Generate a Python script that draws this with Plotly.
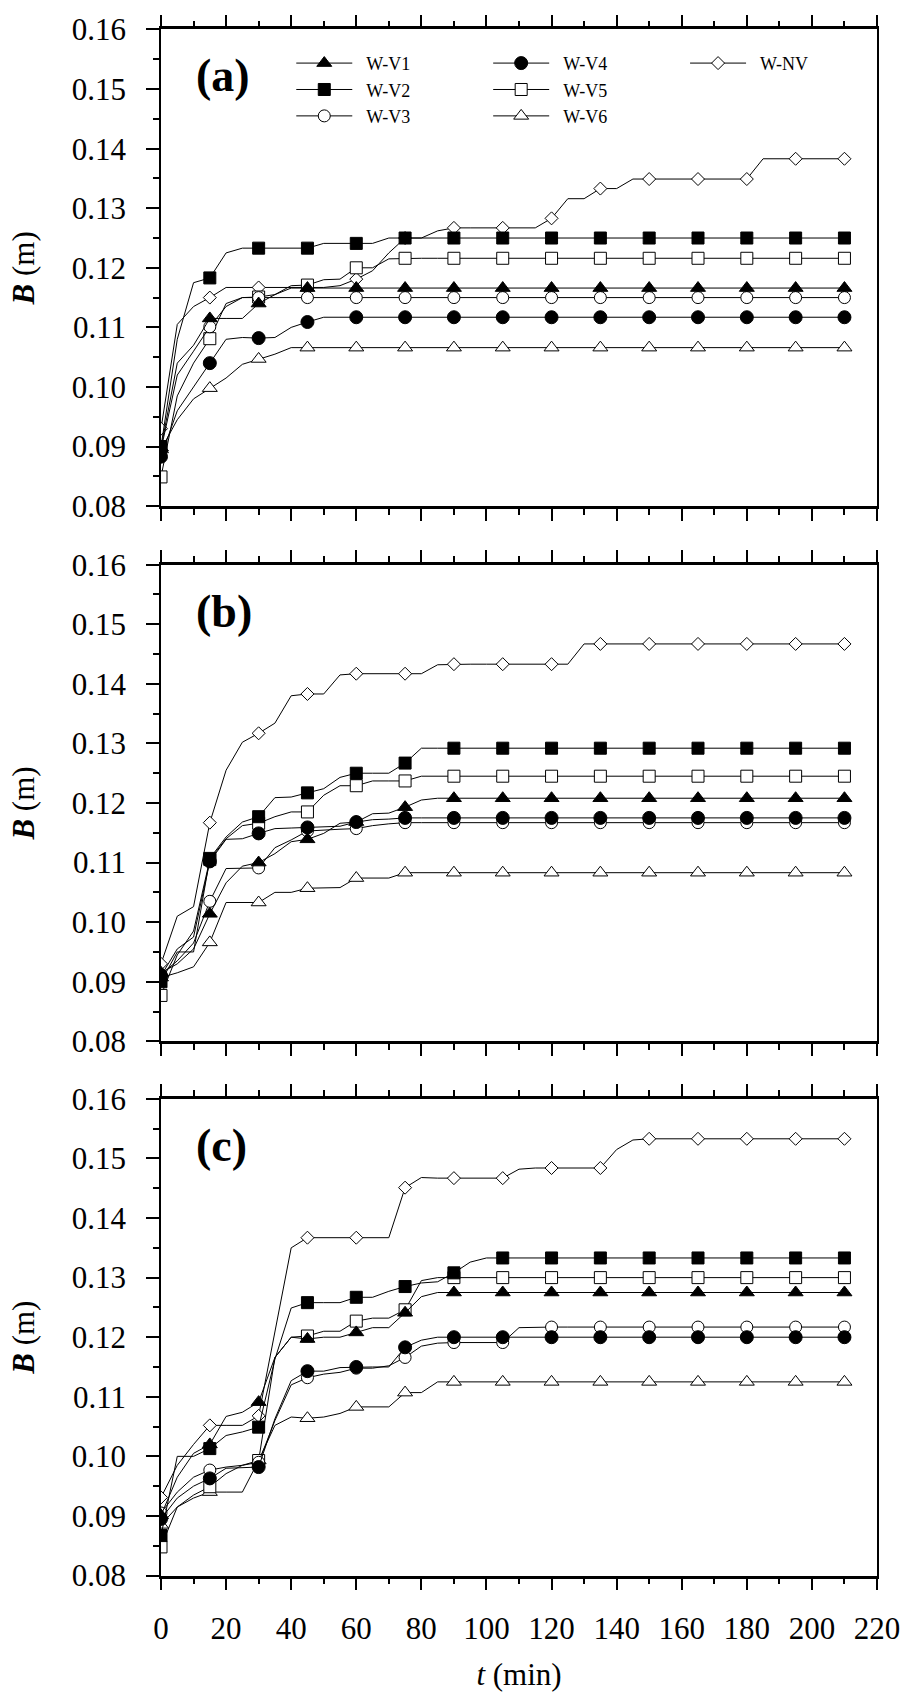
import plotly.graph_objects as go

# time axis (min) - measurements every 5 min, symbols every 15 min
t = [0, 5, 10, 15, 20, 25, 30, 35, 40, 45, 50, 55, 60, 65, 70, 75, 80, 85, 90, 95, 100,
     105, 110, 115, 120, 125, 130, 135, 140, 145, 150, 155, 160, 165, 170, 175, 180,
     185, 190, 195, 200, 205, 210]

series_names = ["W-V1", "W-V2", "W-V3", "W-V4", "W-V5", "W-V6", "W-NV"]
x_ticks = [0, 20, 40, 60, 80, 100, 120, 140, 160, 180, 200, 220]
y_ticks = [0.08, 0.09, 0.10, 0.11, 0.12, 0.13, 0.14, 0.15, 0.16]

# ---------------- panel (a) ----------------
A_V1 = [0.0898, 0.1040, 0.1070, 0.1115, 0.1115, 0.1115, 0.1140, 0.1155, 0.1166, 0.1166,
        0.1166, 0.1166, 0.1166, 0.1166, 0.1166, 0.1166, 0.1166, 0.1166, 0.1166, 0.1166,
        0.1166, 0.1166, 0.1166, 0.1166, 0.1166, 0.1166, 0.1166, 0.1166, 0.1166, 0.1166,
        0.1166, 0.1166, 0.1166, 0.1166, 0.1166, 0.1166, 0.1166, 0.1166, 0.1166, 0.1166,
        0.1166, 0.1166, 0.1166]
A_V2 = [0.0900, 0.1080, 0.1175, 0.1183, 0.1225, 0.1233, 0.1233, 0.1233, 0.1233, 0.1233,
        0.1241, 0.1241, 0.1241, 0.1241, 0.1250, 0.1250, 0.1250, 0.1250, 0.1250, 0.1250,
        0.1250, 0.1250, 0.1250, 0.1250, 0.1250, 0.1250, 0.1250, 0.1250, 0.1250, 0.1250,
        0.1250, 0.1250, 0.1250, 0.1250, 0.1250, 0.1250, 0.1250, 0.1250, 0.1250, 0.1250,
        0.1250, 0.1250, 0.1250]
A_V3 = [0.0895, 0.1020, 0.1060, 0.1101, 0.1135, 0.1150, 0.1150, 0.1150, 0.1150, 0.1150,
        0.1150, 0.1150, 0.1150, 0.1150, 0.1150, 0.1150, 0.1150, 0.1150, 0.1150, 0.1150,
        0.1150, 0.1150, 0.1150, 0.1150, 0.1150, 0.1150, 0.1150, 0.1150, 0.1150, 0.1150,
        0.1150, 0.1150, 0.1150, 0.1150, 0.1150, 0.1150, 0.1150, 0.1150, 0.1150, 0.1150,
        0.1150, 0.1150, 0.1150]
A_V4 = [0.0883, 0.0960, 0.1000, 0.1040, 0.1080, 0.1083, 0.1082, 0.1083, 0.1100, 0.1109,
        0.1117, 0.1117, 0.1117, 0.1117, 0.1117, 0.1117, 0.1117, 0.1117, 0.1117, 0.1117,
        0.1117, 0.1117, 0.1117, 0.1117, 0.1117, 0.1117, 0.1117, 0.1117, 0.1117, 0.1117,
        0.1117, 0.1117, 0.1117, 0.1117, 0.1117, 0.1117, 0.1117, 0.1117, 0.1117, 0.1117,
        0.1117, 0.1117, 0.1117]
A_V5 = [0.0849, 0.0985, 0.1040, 0.1081, 0.1140, 0.1150, 0.1151, 0.1155, 0.1170, 0.1171,
        0.1180, 0.1181, 0.1200, 0.1200, 0.1215, 0.1216, 0.1216, 0.1216, 0.1216, 0.1216,
        0.1216, 0.1216, 0.1216, 0.1216, 0.1216, 0.1216, 0.1216, 0.1216, 0.1216, 0.1216,
        0.1216, 0.1216, 0.1216, 0.1216, 0.1216, 0.1216, 0.1216, 0.1216, 0.1216, 0.1216,
        0.1216, 0.1216, 0.1216]
A_V6 = [0.0895, 0.0945, 0.0980, 0.0998, 0.1015, 0.1038, 0.1047, 0.1055, 0.1066, 0.1066,
        0.1066, 0.1066, 0.1066, 0.1066, 0.1066, 0.1066, 0.1066, 0.1066, 0.1066, 0.1066,
        0.1066, 0.1066, 0.1066, 0.1066, 0.1066, 0.1066, 0.1066, 0.1066, 0.1066, 0.1066,
        0.1066, 0.1066, 0.1066, 0.1066, 0.1066, 0.1066, 0.1066, 0.1066, 0.1066, 0.1066,
        0.1066, 0.1066, 0.1066]
A_NV = [0.0930, 0.1105, 0.1135, 0.1150, 0.1167, 0.1167, 0.1167, 0.1167, 0.1167, 0.1167,
        0.1167, 0.1170, 0.1181, 0.1195, 0.1225, 0.1250, 0.1250, 0.1262, 0.1267, 0.1267,
        0.1267, 0.1267, 0.1267, 0.1267, 0.1283, 0.1316, 0.1316, 0.1333, 0.1333, 0.1349,
        0.1349, 0.1349, 0.1349, 0.1349, 0.1349, 0.1349, 0.1349, 0.1383, 0.1383, 0.1383,
        0.1383, 0.1383, 0.1383]

# ---------------- panel (b) ----------------
B_V1 = [0.0915, 0.0930, 0.0955, 0.1014, 0.1066, 0.1094, 0.1100, 0.1115, 0.1135, 0.1139,
        0.1149, 0.1166, 0.1168, 0.1182, 0.1183, 0.1193, 0.1205, 0.1208, 0.1208, 0.1208,
        0.1208, 0.1208, 0.1208, 0.1208, 0.1208, 0.1208, 0.1208, 0.1208, 0.1208, 0.1208,
        0.1208, 0.1208, 0.1208, 0.1208, 0.1208, 0.1208, 0.1208, 0.1208, 0.1208, 0.1208,
        0.1208, 0.1208, 0.1208]
B_V2 = [0.0900, 0.0950, 0.0950, 0.1107, 0.1143, 0.1168, 0.1177, 0.1209, 0.1210, 0.1217,
        0.1224, 0.1243, 0.1250, 0.1250, 0.1250, 0.1267, 0.1292, 0.1292, 0.1292, 0.1292,
        0.1292, 0.1292, 0.1292, 0.1292, 0.1292, 0.1292, 0.1292, 0.1292, 0.1292, 0.1292,
        0.1292, 0.1292, 0.1292, 0.1292, 0.1292, 0.1292, 0.1292, 0.1292, 0.1292, 0.1292,
        0.1292, 0.1292, 0.1292]
B_V3 = [0.0912, 0.0935, 0.0965, 0.1035, 0.1090, 0.1090, 0.1091, 0.1125, 0.1138, 0.1153,
        0.1155, 0.1156, 0.1157, 0.1162, 0.1165, 0.1167, 0.1167, 0.1167, 0.1167, 0.1167,
        0.1167, 0.1167, 0.1167, 0.1167, 0.1167, 0.1167, 0.1167, 0.1167, 0.1167, 0.1167,
        0.1167, 0.1167, 0.1167, 0.1167, 0.1167, 0.1167, 0.1167, 0.1167, 0.1167, 0.1167,
        0.1167, 0.1167, 0.1167]
B_V4 = [0.0910, 0.0955, 0.0975, 0.1102, 0.1139, 0.1140, 0.1149, 0.1157, 0.1158, 0.1159,
        0.1160, 0.1161, 0.1168, 0.1172, 0.1173, 0.1175, 0.1175, 0.1175, 0.1175, 0.1175,
        0.1175, 0.1175, 0.1175, 0.1175, 0.1175, 0.1175, 0.1175, 0.1175, 0.1175, 0.1175,
        0.1175, 0.1175, 0.1175, 0.1175, 0.1175, 0.1175, 0.1175, 0.1175, 0.1175, 0.1175,
        0.1175, 0.1175, 0.1175]
B_V5 = [0.0877, 0.0945, 0.0985, 0.1105, 0.1140, 0.1162, 0.1166, 0.1177, 0.1185, 0.1185,
        0.1213, 0.1229, 0.1229, 0.1237, 0.1237, 0.1237, 0.1245, 0.1245, 0.1245, 0.1245,
        0.1245, 0.1245, 0.1245, 0.1245, 0.1245, 0.1245, 0.1245, 0.1245, 0.1245, 0.1245,
        0.1245, 0.1245, 0.1245, 0.1245, 0.1245, 0.1245, 0.1245, 0.1245, 0.1245, 0.1245,
        0.1245, 0.1245, 0.1245]
B_V6 = [0.0907, 0.0915, 0.0925, 0.0966, 0.1033, 0.1033, 0.1033, 0.1050, 0.1050, 0.1057,
        0.1058, 0.1058, 0.1074, 0.1074, 0.1074, 0.1083, 0.1083, 0.1083, 0.1083, 0.1083,
        0.1083, 0.1083, 0.1083, 0.1083, 0.1083, 0.1083, 0.1083, 0.1083, 0.1083, 0.1083,
        0.1083, 0.1083, 0.1083, 0.1083, 0.1083, 0.1083, 0.1083, 0.1083, 0.1083, 0.1083,
        0.1083, 0.1083, 0.1083]
B_NV = [0.0930, 0.1010, 0.1026, 0.1167, 0.1255, 0.1302, 0.1317, 0.1334, 0.1380, 0.1383,
        0.1383, 0.1415, 0.1417, 0.1417, 0.1417, 0.1417, 0.1417, 0.1432, 0.1433, 0.1433,
        0.1433, 0.1433, 0.1433, 0.1433, 0.1433, 0.1433, 0.1467, 0.1467, 0.1467, 0.1467,
        0.1467, 0.1467, 0.1467, 0.1467, 0.1467, 0.1467, 0.1467, 0.1467, 0.1467, 0.1467,
        0.1467, 0.1467, 0.1467]

# ---------------- panel (c) ----------------
C_V1 = [0.0901, 0.0965, 0.1005, 0.1020, 0.1067, 0.1074, 0.1091, 0.1166, 0.1200, 0.1197,
        0.1200, 0.1200, 0.1208, 0.1216, 0.1216, 0.1241, 0.1268, 0.1275, 0.1275, 0.1275,
        0.1275, 0.1275, 0.1275, 0.1275, 0.1275, 0.1275, 0.1275, 0.1275, 0.1275, 0.1275,
        0.1275, 0.1275, 0.1275, 0.1275, 0.1275, 0.1275, 0.1275, 0.1275, 0.1275, 0.1275,
        0.1275, 0.1275, 0.1275]
C_V2 = [0.0867, 0.1000, 0.1000, 0.1013, 0.1035, 0.1041, 0.1049, 0.1163, 0.1249, 0.1258,
        0.1258, 0.1258, 0.1267, 0.1267, 0.1277, 0.1285, 0.1291, 0.1293, 0.1308, 0.1326,
        0.1333, 0.1333, 0.1333, 0.1333, 0.1333, 0.1333, 0.1333, 0.1333, 0.1333, 0.1333,
        0.1333, 0.1333, 0.1333, 0.1333, 0.1333, 0.1333, 0.1333, 0.1333, 0.1333, 0.1333,
        0.1333, 0.1333, 0.1333]
C_V3 = [0.0905, 0.0940, 0.0965, 0.0977, 0.0982, 0.0985, 0.0990, 0.1060, 0.1120, 0.1132,
        0.1138, 0.1141, 0.1148, 0.1148, 0.1152, 0.1166, 0.1185, 0.1190, 0.1191, 0.1191,
        0.1191, 0.1191, 0.1216, 0.1217, 0.1217, 0.1217, 0.1217, 0.1217, 0.1217, 0.1217,
        0.1217, 0.1217, 0.1217, 0.1217, 0.1217, 0.1217, 0.1217, 0.1217, 0.1217, 0.1217,
        0.1217, 0.1217, 0.1217]
C_V4 = [0.0895, 0.0930, 0.0950, 0.0963, 0.0980, 0.0981, 0.0982, 0.1063, 0.1127, 0.1143,
        0.1143, 0.1149, 0.1150, 0.1150, 0.1150, 0.1183, 0.1195, 0.1200, 0.1200, 0.1200,
        0.1200, 0.1200, 0.1200, 0.1200, 0.1200, 0.1200, 0.1200, 0.1200, 0.1200, 0.1200,
        0.1200, 0.1200, 0.1200, 0.1200, 0.1200, 0.1200, 0.1200, 0.1200, 0.1200, 0.1200,
        0.1200, 0.1200, 0.1200]
C_V5 = [0.0848, 0.0915, 0.0935, 0.0949, 0.0971, 0.0985, 0.0993, 0.1166, 0.1200, 0.1202,
        0.1210, 0.1210, 0.1227, 0.1232, 0.1232, 0.1246, 0.1295, 0.1300, 0.1300, 0.1300,
        0.1300, 0.1300, 0.1300, 0.1300, 0.1300, 0.1300, 0.1300, 0.1300, 0.1300, 0.1300,
        0.1300, 0.1300, 0.1300, 0.1300, 0.1300, 0.1300, 0.1300, 0.1300, 0.1300, 0.1300,
        0.1300, 0.1300, 0.1300]
C_V6 = [0.0885, 0.0915, 0.0930, 0.0940, 0.0940, 0.0940, 0.0993, 0.1052, 0.1066, 0.1064,
        0.1066, 0.1072, 0.1083, 0.1083, 0.1083, 0.1107, 0.1107, 0.1125, 0.1125, 0.1125,
        0.1125, 0.1125, 0.1125, 0.1125, 0.1125, 0.1125, 0.1125, 0.1125, 0.1125, 0.1125,
        0.1125, 0.1125, 0.1125, 0.1125, 0.1125, 0.1125, 0.1125, 0.1125, 0.1125, 0.1125,
        0.1125, 0.1125, 0.1125]
C_NV = [0.0931, 0.0985, 0.1020, 0.1052, 0.1052, 0.1052, 0.1068, 0.1210, 0.1350, 0.1367,
        0.1367, 0.1367, 0.1367, 0.1367, 0.1367, 0.1451, 0.1468, 0.1467, 0.1467, 0.1467,
        0.1467, 0.1467, 0.1482, 0.1484, 0.1484, 0.1484, 0.1484, 0.1484, 0.1515, 0.1531,
        0.1533, 0.1533, 0.1533, 0.1533, 0.1533, 0.1533, 0.1533, 0.1533, 0.1533, 0.1533,
        0.1533, 0.1533, 0.1533]

panels = [
    ("(a)", [A_V1, A_V2, A_V3, A_V4, A_V5, A_V6, A_NV]),
    ("(b)", [B_V1, B_V2, B_V3, B_V4, B_V5, B_V6, B_NV]),
    ("(c)", [C_V1, C_V2, C_V3, C_V4, C_V5, C_V6, C_NV]),
]

# ---------------- styling ----------------
FONT = "Liberation Serif, Times New Roman, serif"
styles = {
    "W-V1": dict(symbol="triangle-up", fill="black", size=13),
    "W-V2": dict(symbol="square", fill="black", size=12),
    "W-V3": dict(symbol="circle", fill="white", size=12),
    "W-V4": dict(symbol="circle", fill="black", size=13),
    "W-V5": dict(symbol="square", fill="white", size=12),
    "W-V6": dict(symbol="triangle-up", fill="white", size=13),
    "W-NV": dict(symbol="diamond", fill="white", size=10),
}
legend_of = {"W-V1": "legend", "W-V2": "legend", "W-V3": "legend",
             "W-V4": "legend2", "W-V5": "legend2", "W-V6": "legend2",
             "W-NV": "legend3"}
# drawing order (bottom to top); legend order is kept by legendrank
draw_order = ["W-NV", "W-V6", "W-V5", "W-V3", "W-V4", "W-V2", "W-V1"]

W, H = 912, 1698
ML, MR, MT, MB = 161, 31, 20, 120
PH = H - MT - MB
panel_top_px = [20.5, 559.5, 1097.5]
panel_h_px = 480.0

def domain(top_px):
    bot = top_px + panel_h_px
    return [max(0.0, (H - MB - bot) / PH), min(1.0, (H - MB - top_px) / PH)]

is_marked = [(ti % 15 == 0) for ti in t]
CLEAR = "rgba(0,0,0,0)"

fig = go.Figure()
for pi, (label, data) in enumerate(panels):
    xa = "x" if pi == 0 else f"x{pi + 1}"
    ya = "y" if pi == 0 else f"y{pi + 1}"
    by_name = dict(zip(series_names, data))
    for name in draw_order:
        vals = by_name[name]
        st = styles[name]
        fills = [st["fill"] if m else CLEAR for m in is_marked]
        lines = ["black" if m else CLEAR for m in is_marked]
        fig.add_trace(go.Scatter(
            x=t, y=vals, mode="lines+markers", name="\u00a0\u00a0" + name,
            legendgroup=name, legend=legend_of[name], showlegend=(pi == 0),
            legendrank=series_names.index(name) + 1,
            xaxis=xa, yaxis=ya,
            line=dict(color="black", width=1),
            marker=dict(symbol=st["symbol"], size=st["size"], color=fills,
                        line=dict(color=lines, width=1)),
        ))

tickfont = dict(family=FONT, size=31, color="black")
layout = dict(
    width=W, height=H, margin=dict(l=ML, r=MR, t=MT, b=MB, pad=0),
    paper_bgcolor="white", plot_bgcolor="white",
    font=dict(family=FONT, color="black"),
    showlegend=True,
)
for pi in range(3):
    xkey = "xaxis" if pi == 0 else f"xaxis{pi + 1}"
    ykey = "yaxis" if pi == 0 else f"yaxis{pi + 1}"
    yanchor_id = "y" if pi == 0 else f"y{pi + 1}"
    xanchor_id = "x" if pi == 0 else f"x{pi + 1}"
    last = (pi == 2)
    layout[xkey] = dict(
        domain=[0, 1], anchor=yanchor_id, range=[0, 220],
        tickmode="array", tickvals=x_ticks, ticktext=[str(v) for v in x_ticks],
        showticklabels=last, tickfont=tickfont, ticklabelstandoff=12,
        ticks="outside", ticklen=12, tickwidth=1.5, tickcolor="black",
        minor=dict(dtick=10, tick0=0, ticks="outside", ticklen=6, tickwidth=1.5,
                   tickcolor="black", showgrid=False),
        showline=True, linewidth=2.5, linecolor="black", mirror="ticks",
        showgrid=False, zeroline=False,
        title=dict(text="<i>t</i> (min)" if last else "",
                   font=dict(family=FONT, size=31, color="black"), standoff=18),
    )
    layout[ykey] = dict(
        domain=domain(panel_top_px[pi]), anchor=xanchor_id, range=[0.08, 0.16],
        tickmode="array", tickvals=y_ticks, ticktext=[f"{v:.2f}" for v in y_ticks],
        tickfont=tickfont, ticklabelstandoff=14,
        ticks="outside", ticklen=13, tickwidth=1.5, tickcolor="black",
        minor=dict(dtick=0.005, tick0=0.08, ticks="outside", ticklen=6, tickwidth=1.5,
                   tickcolor="black", showgrid=False),
        showline=True, linewidth=1.5, linecolor="black", mirror=True,
        showgrid=False, zeroline=False,
        title=dict(text="<b><i>B</i></b> (m)",
                   font=dict(family=FONT, size=31, color="black"), standoff=28),
    )

def lpx(xpx, ypx):
    return (xpx - ML) / (W - ML - MR), (H - MB - ypx) / PH

legend_common = dict(
    xanchor="left", yanchor="top", bgcolor="rgba(0,0,0,0)", borderwidth=0,
    font=dict(family=FONT, size=18, color="black"), itemwidth=56,
    tracegroupgap=0, traceorder="grouped",
)
for key, xpx in (("legend", 292), ("legend2", 490), ("legend3", 688)):
    lx, ly = lpx(xpx, 36)
    layout[key] = dict(x=lx, y=ly, **legend_common)

annotations = []
for pi, (label, _) in enumerate(panels):
    annotations.append(dict(
        text=f"<b>{label}</b>", x=10, y=0.1522,
        xref="x" if pi == 0 else f"x{pi + 1}", yref="y" if pi == 0 else f"y{pi + 1}",
        xanchor="left", yanchor="middle", showarrow=False,
        font=dict(family=FONT, size=46, color="black"),
    ))
layout["annotations"] = annotations

fig.update_layout(**layout)
fig.write_html("out.html")
